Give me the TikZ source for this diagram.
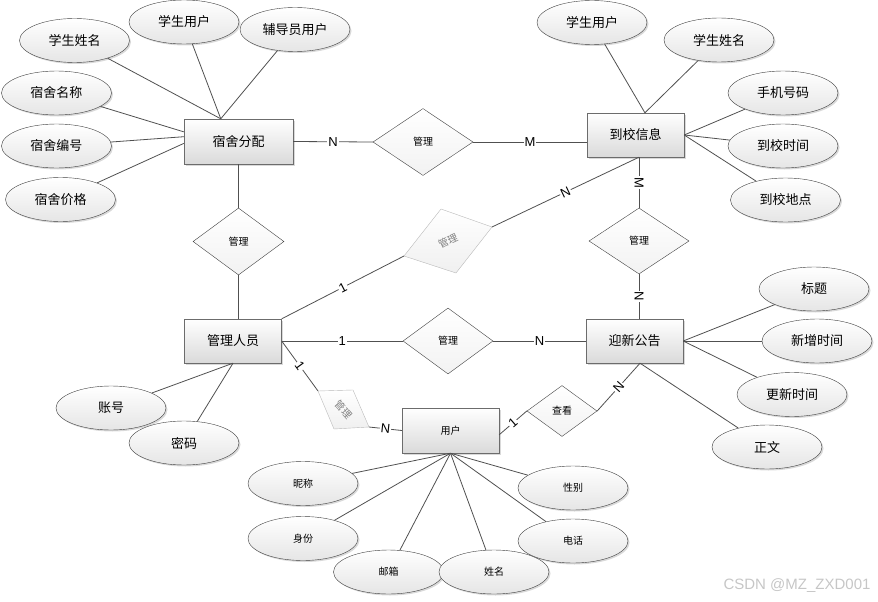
\documentclass[tikz,border=0pt]{standalone}
\usepackage{fontspec}
\setmainfont{Noto Sans CJK SC}
\newfontfamily\latinfont{Liberation Sans}
\usetikzlibrary{shapes.geometric,shadows}
\definecolor{linegray}{HTML}{505050}
\definecolor{boxgray}{HTML}{DADADA}

\begin{document}
\begin{tikzpicture}
  [x=1pt,y=-1pt,
   ent/.style={rectangle,draw=gray!85!black,top color=white,bottom color=boxgray,
     drop shadow={shadow xshift=1.5pt,shadow yshift=-1.5pt,opacity=.3},
     minimum width=97pt,minimum height=44pt,font=\fontsize{13}{13}\selectfont},
   attr/.style={ellipse,draw=darkgray,top color=white,bottom color=gray!20,
     drop shadow={shadow xshift=1.5pt,shadow yshift=-1.5pt,opacity=.3},
     inner sep=0pt,minimum width=110pt,minimum height=44pt,font=\fontsize{13}{13}\selectfont},
   sattr/.style={attr,font=\fontsize{10}{10}\selectfont},
   rel/.style={diamond,draw=darkgray,top color=white,bottom color=gray!10,
     inner sep=0pt,font=\fontsize{10}{10}\selectfont},
   conn/.style={draw=linegray,line width=.8pt},
   lab/.style={fill=white,inner sep=1pt,font=\latinfont\fontsize{13}{13}\selectfont}]
  \useasboundingbox (0,0) rectangle (878,602);
  % entities
  \node[ent,minimum width=109pt,minimum height=45pt] (dsfp) at (238.5,141.5) {宿舍分配};
  \node[ent] (dxxx) at (635.5,135) {到校信息};
  \node[ent] (glry) at (233,341) {管理人员};
  \node[ent] (yxgg) at (634.5,341) {迎新公告};
  \node[ent,minimum height=45pt,font=\fontsize{10}{10}\selectfont] (yh) at (450.5,430.5) {用户};
  % relations
  \node[rel,minimum width=100pt,minimum height=67pt] (gl1) at (423,142) {管理};
  \node[rel,minimum width=91pt,minimum height=67pt] (gl2) at (238.5,241.5) {管理};
  \node[rel,minimum width=100pt,minimum height=66pt] (gl3) at (639,241) {管理};
  \node[rel,minimum width=90pt,minimum height=66pt] (gl4) at (448,341) {管理};
  \node[rel,minimum width=70pt,minimum height=51pt] (ck) at (562,411) {查看};
  % the two tilted ones
  \coordinate (r1w) at (404,256);
  \coordinate (r1n) at (441,209);
  \coordinate (r1e) at (492,227);
  \coordinate (r1s) at (456,273);
  \draw[gray!55,top color=white,bottom color=gray!12] (r1w) -- (r1n) -- (r1e) -- (r1s) -- cycle;
  \node[text=gray,rotate=25,font=\fontsize{10}{10}\selectfont] (gl5) at (448,241) {管理};
  \coordinate (r2w) at (318,391);
  \coordinate (r2n) at (353,390);
  \coordinate (r2e) at (369,427);
  \coordinate (r2s) at (334,429);
  \draw[gray!55,top color=white,bottom color=gray!12] (r2w) -- (r2n) -- (r2e) -- (r2s) -- cycle;
  \node[text=gray,rotate=-48,font=\fontsize{10}{10}\selectfont] (gl6) at (343.5,409.5) {管理};
  % attributes of 宿舍分配
  \node[attr] (ds1) at (74.5,40.5) {学生姓名};
  \node[attr] (ds2) at (184,22) {学生用户};
  \node[attr] (ds3) at (295,29.5) {辅导员用户};
  \node[attr] (ds4) at (56.5,93) {宿舍名称};
  \node[attr] (ds5) at (56.5,146) {宿舍编号};
  \node[attr] (ds6) at (60.5,199.5) {宿舍价格};
  % attributes of 到校信息
  \node[attr] (dx1) at (592,22.5) {学生用户};
  \node[attr] (dx2) at (719,40) {学生姓名};
  \node[attr] (dx3) at (783,93) {手机号码};
  \node[attr] (dx4) at (783,146) {到校时间};
  \node[attr] (dx5) at (785.5,200) {到校地点};
  % attributes of 迎新公告
  \node[attr] (yx1) at (814,289) {标题};
  \node[attr] (yx2) at (817,341) {新增时间};
  \node[attr] (yx3) at (792,394.5) {更新时间};
  \node[attr] (yx4) at (767,447) {正文};
  % attributes of 管理人员
  \node[attr] (gr1) at (111,408) {账号};
  \node[attr] (gr2) at (184,443) {密码};
  % attributes of 用户
  \node[sattr] (yh1) at (303,483.5) {昵称};
  \node[sattr] (yh2) at (303,538.5) {身份};
  \node[sattr] (yh3) at (388.5,572) {邮箱};
  \node[sattr] (yh4) at (494,572) {姓名};
  \node[sattr] (yh5) at (573,541) {电话};
  \node[sattr] (yh6) at (573,488) {性别};
  % attribute lines
  \draw[conn] (ds1) -- (dsfp.128);
  \draw[conn] (ds2) -- (dsfp.128);
  \draw[conn] (ds3) -- (dsfp.128);
  \draw[conn] (ds4) -- (dsfp.170);
  \draw[conn] (ds5) -- (dsfp.175);
  \draw[conn] (ds6) -- (dsfp.182);
  \draw[conn] (dx1) -- (dxxx.67);
  \draw[conn] (dx2) -- (dxxx.67);
  \draw[conn] (dx3) -- (dxxx.east);
  \draw[conn] (dx4) -- (dxxx.east);
  \draw[conn] (dx5) -- (dxxx.east);
  \draw[conn] (yx1) -- (yxgg.east);
  \draw[conn] (yx2) -- (yxgg.east);
  \draw[conn] (yx3) -- (yxgg.east);
  \draw[conn] (yx4) -- (yxgg.-76);
  \draw[conn] (gr1) -- (glry.south);
  \draw[conn] (gr2) -- (glry.south);
  \draw[conn] (yh1) -- (yh.south);
  \draw[conn] (yh2) -- (yh.south);
  \draw[conn] (yh3) -- (yh.south);
  \draw[conn] (yh4) -- (yh.south);
  \draw[conn] (yh5) -- (yh.south);
  \draw[conn] (yh6) -- (yh.south);
  % relation lines
  \draw[conn] (dsfp.east) -- node[lab] {N} (gl1.west);
  \draw[conn] (gl1.east) -- node[lab] {M} (gl1.east -| dxxx.west);
  \draw[conn] (dsfp.south) -- (gl2.north);
  \draw[conn] (gl2.south) -- (gl2.south |- glry.north);
  \draw[conn] (gl3.north |- dxxx.south) -- node[lab,sloped] {M} (gl3.north);
  \draw[conn] (gl3.south) -- node[lab,sloped] {N} (gl3.south |- yxgg.north);
  \draw[conn] (glry.north east) -- node[lab,sloped] {1} (r1w);
  \draw[conn] (r1e) -- node[lab,sloped] {N} (dxxx.-81);
  \draw[conn] (glry.east) -- node[lab] {1} (gl4.west);
  \draw[conn] (gl4.east) -- node[lab] {N} (yxgg.west);
  \draw[conn] (glry.east) -- node[lab,sloped] {1} (r2w);
  \draw[conn] (r2e) -- node[lab,sloped] {N} (yh.west);
  \draw[conn] (yh.-5) -- node[lab,sloped] {1} (ck.west);
  \draw[conn] (ck.east) -- node[lab,sloped] {N} (yxgg.-76);
  % watermark
  \node[text=gray!45,font=\latinfont\fontsize{15}{15}\selectfont] (wm) at (797,586) {CSDN @MZ\_ZXD001};
\end{tikzpicture}
\end{document}
